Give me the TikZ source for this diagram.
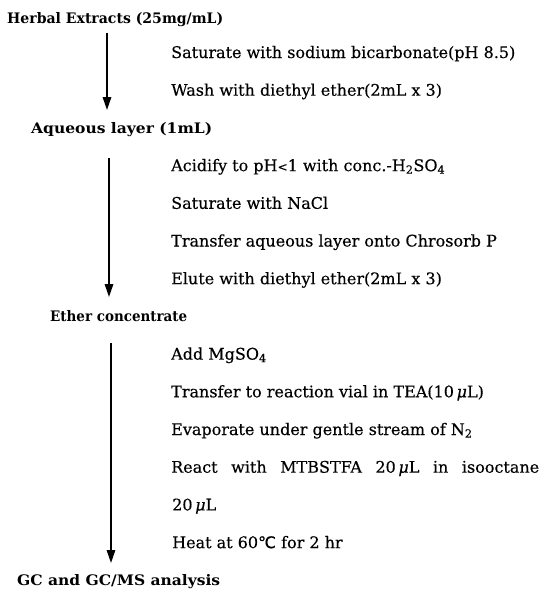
\documentclass[tikz,border=0pt]{standalone}
\usepackage{graphicx}
\usepackage{fontspec}
\setmainfont{DejaVu Serif}[FakeBold=0.3, BoldFeatures={FakeBold=0}]
\newfontfamily\symfnt{DejaVu Sans}[FakeBold=0.3]
\usetikzlibrary{arrows.meta}
\tikzset{
  stepline/.style={font=\fontsize{16}{19}\selectfont, anchor=base west, inner sep=0pt},
  headlbl/.style={font=\fontsize{14.5}{17}\selectfont\bfseries, anchor=base west, inner sep=0pt},
  flowarrow/.style={line width=1.5pt, -{Triangle[length=13pt,width=8.5pt]}}
}
\newcommand{\mul}{{\itshape μ}}
\newcommand{\fitw}[2]{\resizebox{#1pt}{\height}{#2}}
\newcommand{\smlt}{{\fontsize{12}{12}\selectfont <}}
\begin{document}
\begin{tikzpicture}[x=1pt,y=1pt]
  \useasboundingbox[fill=white] (0,0) rectangle (542,-592);
  % headings
  \node[headlbl] (herbal) at (7,-23) {\fitw{216}{Herbal Extracts (25mg/mL)}};
  \node[headlbl] (aqueous) at (31,-133.4) {\fitw{181}{Aqueous layer (1mL)}};
  \node[headlbl] (ether) at (50,-321.9) {\fitw{137}{Ether concentrate}};
  \node[headlbl] (gc) at (17,-585.8) {\fitw{203}{GC and GC/MS analysis}};
  % steps
  \node[stepline] (s1) at (171,-58) {Saturate with sodium bicarbonate(pH 8.5)};
  \node[stepline] (s2) at (171,-95.7) {Wash with diethyl ether(2mL x 3)};
  \node[stepline] (s3) at (171,-171.1) {Acidify to pH\smlt1 with conc.-H\textsubscript{2}SO\textsubscript{4}};
  \node[stepline] (s4) at (171,-208.8) {Saturate with NaCl};
  \node[stepline] (s5) at (171,-246.5) {Transfer aqueous layer onto Chrosorb P};
  \node[stepline] (s6) at (171,-284.2) {Elute with diethyl ether(2mL x 3)};
  \node[stepline] (s7) at (171,-359.6) {Add MgSO\textsubscript{4}};
  \node[stepline] (s8) at (171,-397.3) {Transfer to reaction vial in TEA(10\,\mul L)};
  \node[stepline] (s9) at (171,-435) {Evaporate under gentle stream of N\textsubscript{2}};
  \node[stepline] (s10) at (171,-472.7) {\makebox[368pt][s]{React with MTBSTFA 20\,\mul L in isooctane}};
  \node[stepline] (s11) at (172,-510.4) {20\,\mul L};
  \node[stepline] (s12) at (172,-548.1) {Heat at 60{\symfnt ℃} for 2 hr};
  % arrow ends
  \coordinate (a1s) at (107,-33);
  \coordinate (a1e) at (107,-110);
  \coordinate (a2s) at (109,-158);
  \coordinate (a2e) at (109,-297);
  \coordinate (a3s) at (111,-343);
  \coordinate (a3e) at (111,-563);
  \draw[flowarrow] (a1s) -- (a1e);
  \draw[flowarrow] (a2s) -- (a2e);
  \draw[flowarrow] (a3s) -- (a3e);
\end{tikzpicture}
\end{document}
